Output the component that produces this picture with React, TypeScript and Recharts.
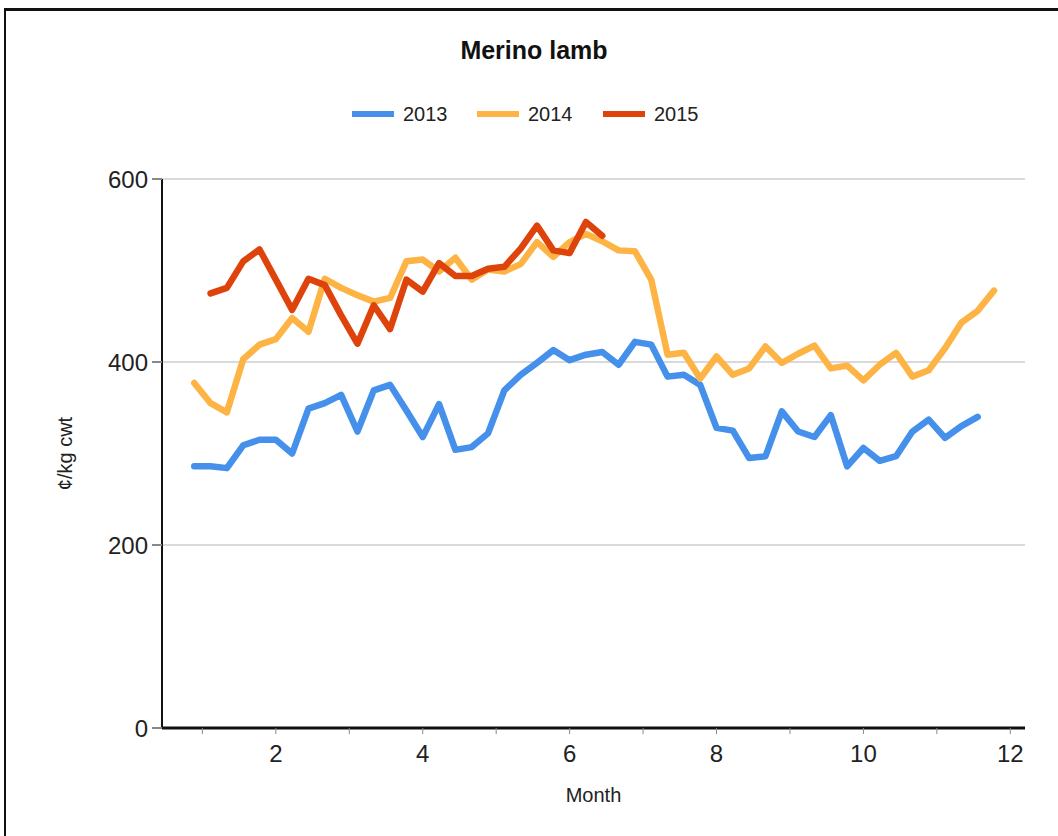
import { LineChart, Line, XAxis, YAxis, CartesianGrid } from 'recharts'

// week of year; plotted as month = week / 4.5
const weeks = [
  4, 5, 6, 7, 8, 9, 10, 11, 12, 13, 14, 15, 16, 17, 18, 19, 20, 21, 22, 23, 24, 25, 26, 27, 28,
  29, 30, 31, 32, 33, 34, 35, 36, 37, 38, 39, 40, 41, 42, 43, 44, 45, 46, 47, 48, 49, 50, 51, 52, 53,
]

const y2013 = [
  286, 286, 284, 309, 315, 315, 300, 349, 355, 364, 324, 369, 375, 347, 318, 354, 304, 307, 322, 369,
  386, 399, 413, 402, 408, 411, 397, 422, 419, 384, 386, 375, 328, 325, 295, 297, 346, 324, 318, 342,
  286, 306, 292, 297, 324, 337, 317, 330, 340,
]

const y2014 = [
  377, 355, 345, 403, 419, 425, 448, 433, 491, 481, 473, 466, 470, 510, 512, 499, 514, 490, 501, 499,
  507, 531, 515, 531, 540, 532, 522, 521, 490, 408, 410, 382, 406, 386, 393, 417, 399, 409, 418, 393,
  396, 380, 397, 410, 384, 391, 415, 443, 456, 478,
]

const y2015 = [
  null, 475, 481, 510, 523, 490, 457, 491, 484, 451, 420, 462, 436, 490, 477, 508, 494, 494, 502, 504,
  524, 549, 522, 519, 553, 538,
]

const monthTicks = [1, 2, 3, 4, 5, 6, 7, 8, 9, 10, 11, 12]
const valueTicks = [0, 200, 400, 600]

const series = [
  { key: 's2013', name: '2013', color: '#4590ea' },
  { key: 's2014', name: '2014', color: '#fdb445' },
  { key: 's2015', name: '2015', color: '#df430c' },
]

const rows = weeks.map((w, i) => ({
  month: w / 4.5,
  s2013: y2013[i] ?? null,
  s2014: y2014[i] ?? null,
  s2015: y2015[i] ?? null,
}))

const FONT = '"Liberation Sans", Arial, sans-serif'

function MonthTick(props: any) {
  const { x, y, payload } = props
  if (payload.value % 2 !== 0) return null
  return (
    <text x={x} y={y} dy="0.71em" textAnchor="middle" fill="#222" fontSize={24} fontFamily={FONT}>
      {payload.value}
    </text>
  )
}

const legendLeft = [352, 477, 603]

export default function App() {
  return (
    <div style={{
      position: 'absolute', left: 0, top: 0, width: 1058, height: 836,
      overflow: 'hidden', background: '#fff', fontFamily: FONT,
    }}>
      <div style={{
        position: 'absolute', left: 4, top: 8, width: 1054, height: 828,
        boxSizing: 'border-box', borderTop: '3px solid #111', borderLeft: '2px solid #111',
      }} />
      <div style={{
        position: 'absolute', left: 0, top: 36, width: 1068, textAlign: 'center',
        fontSize: 25, fontWeight: 'bold', color: '#111',
      }}>
        Merino lamb
      </div>
      {series.map((s, i) => (
        <div key={s.key} style={{
          position: 'absolute', left: legendLeft[i], top: 102, height: 24,
          display: 'flex', alignItems: 'center', fontSize: 20, color: '#222',
        }}>
          <span style={{ display: 'inline-block', width: 42, height: 6, background: s.color, marginRight: 9 }} />
          {s.name}
        </div>
      ))}
      <LineChart
        width={1058}
        height={836}
        data={rows}
        margin={{ top: 179, right: 33, bottom: 28, left: 52 }}
        style={{ position: 'absolute', left: 0, top: 0, fontFamily: FONT }}
      >
        <CartesianGrid vertical={false} stroke="#d9d9d9" strokeWidth={2} />
        <XAxis
          type="number"
          dataKey="month"
          domain={[0.45, 12.2]}
          ticks={monthTicks}
          allowDataOverflow
          tick={<MonthTick />}
          tickSize={6}
          tickMargin={11}
          tickLine={{ stroke: '#888', strokeWidth: 1 }}
          axisLine={{ stroke: '#111', strokeWidth: 3 }}
          height={80}
          label={{ value: 'Month', position: 'insideBottom', offset: 6, fontSize: 20, fill: '#222' }}
        />
        <YAxis
          type="number"
          domain={[0, 600]}
          ticks={valueTicks}
          width={110}
          tickSize={10}
          tickMargin={4}
          tick={{ fontSize: 24, fill: '#222' }}
          tickLine={{ stroke: '#888', strokeWidth: 2 }}
          axisLine={{ stroke: '#111', strokeWidth: 2 }}
          label={{
            value: '¢/kg cwt', angle: -90, position: 'insideLeft', offset: 13,
            fontSize: 20, fill: '#222', style: { textAnchor: 'middle' },
          }}
        />
        {series.map(s => (
          <Line
            key={s.key}
            dataKey={s.key}
            name={s.name}
            stroke={s.color}
            strokeWidth={6.5}
            strokeLinejoin="round"
            strokeLinecap="round"
            dot={false}
            activeDot={false}
            type="linear"
            isAnimationActive={false}
          />
        ))}
      </LineChart>
    </div>
  )
}
